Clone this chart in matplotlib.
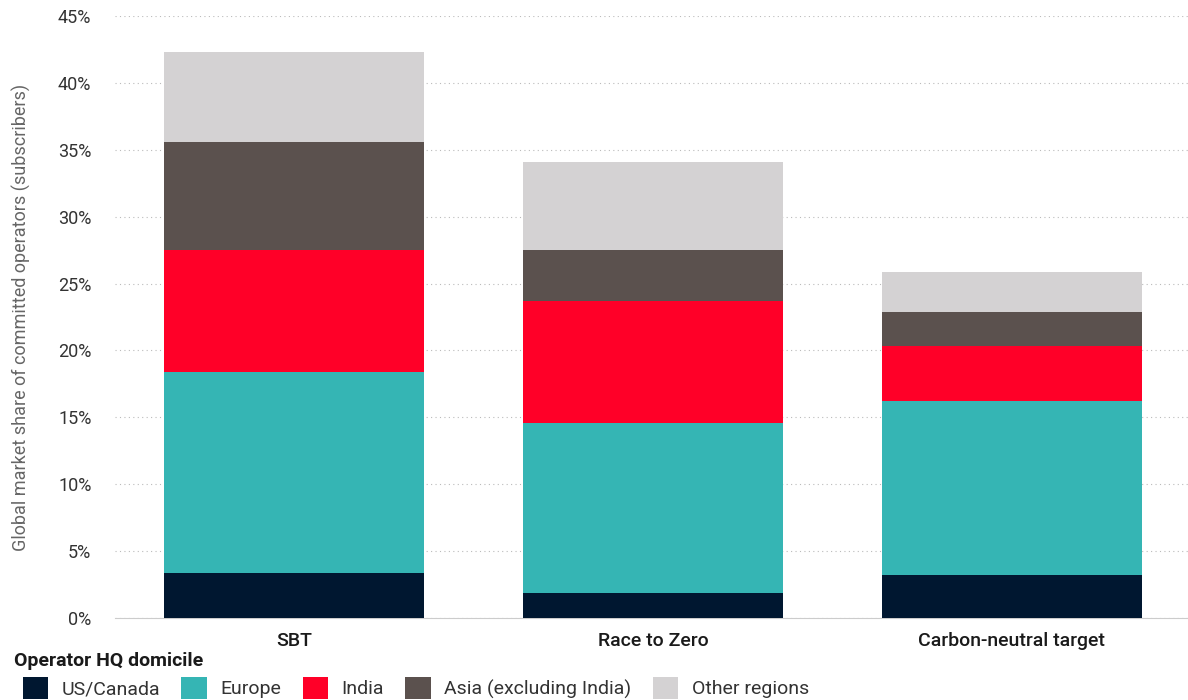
import matplotlib
matplotlib.use("Agg")
import matplotlib.pyplot as plt
from matplotlib.patches import Patch
from matplotlib import font_manager

names = {f.name for f in font_manager.fontManager.ttflist}
fam = "Liberation Sans Narrow" if "Liberation Sans Narrow" in names else "Roboto"
plt.rcParams['font.family'] = [fam, 'DejaVu Sans']

categories = ["SBT", "Race to Zero", "Carbon-neutral target"]
series_names = ["US/Canada", "Europe", "India", "Asia (excluding India)", "Other regions"]
us_canada = [3.4, 1.9, 3.2]
europe = [15.0, 12.7, 13.0]
india = [9.1, 9.1, 4.1]
asia = [8.1, 3.8, 2.6]
other = [6.7, 6.6, 3.0]
colors = ["#001730", "#35B5B4", "#FF0028", "#5B514E", "#D4D2D3"]
yticks = [0, 5, 10, 15, 20, 25, 30, 35, 40, 45]

fig = plt.figure(figsize=(11.88, 7.0), dpi=100)
ax = fig.add_axes([115/1188, 1-618/700, (1191-115)/1188, (618-16)/700])

x = range(len(categories))
bottom = [0, 0, 0]
for vals, c in zip([us_canada, europe, india, asia, other], colors):
    ax.bar(x, vals, bottom=bottom, width=0.725, color=c, zorder=3)
    bottom = [b + v for b, v in zip(bottom, vals)]

ax.set_xlim(-0.5, 2.5)
ax.set_ylim(0, 45)
ax.set_yticks(yticks)
ax.set_yticklabels([f"{t}%" for t in yticks], fontsize=13, color="#333333")
ax.set_xticks(list(x))
ax.set_xticklabels(categories, fontsize=14, fontweight="medium", color="#1a1a1a")
ax.tick_params(axis="both", length=0, pad=10)
ax.tick_params(axis="y", pad=17)
ax.yaxis.grid(True, linestyle=(0, (1, 3)), color="#bbbbbb", linewidth=0.8, zorder=0)
for s in ["top", "right", "left"]:
    ax.spines[s].set_visible(False)
ax.spines["bottom"].set_color("#cccccc")
ax.set_ylabel("Global market share of committed operators (subscribers)", fontsize=13, color="#666666")
ax.yaxis.set_label_coords(-0.078, 0.5)

fig.text(14/1188, 1-661/700, "Operator HQ domicile", fontsize=14, fontweight="bold", va="center", ha="left", color="#1a1a1a")
handles = [Patch(facecolor=c, edgecolor="none") for c in colors]
leg = fig.legend(handles, series_names, loc="center left", bbox_to_anchor=(5/1188, 1-688/700),
                 ncol=5, frameon=False, fontsize=14, handlelength=1.3, handleheight=1.3,
                 handletextpad=0.7, columnspacing=1.1)
for t in leg.get_texts():
    t.set_color("#333333")

fig.savefig("out.png", dpi=100, facecolor="white")
